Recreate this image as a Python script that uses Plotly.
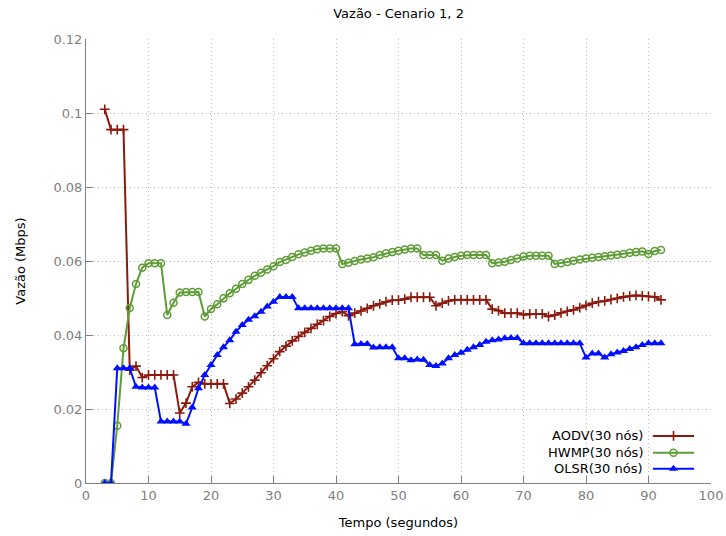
import plotly.graph_objects as go

time_s = list(range(3, 93))

aodv = [0.101, 0.0955, 0.0955, 0.0955, 0.0305, 0.0316, 0.0285,
        0.0292, 0.0292, 0.0292, 0.0292, 0.0292,
        0.0189, 0.0216, 0.026, 0.0272,
        0.0268, 0.0268, 0.0268, 0.0268,
        0.0215, 0.0227, 0.0243, 0.026, 0.0278, 0.0298, 0.0317, 0.0336, 0.0355,
        0.037, 0.0384, 0.0396, 0.0407, 0.0418, 0.0429, 0.0439, 0.045, 0.0458, 0.0463,
        0.0452, 0.0459, 0.0465, 0.0472, 0.0479, 0.0484, 0.049, 0.0494, 0.0494, 0.0497,
        0.0502, 0.0502, 0.0502, 0.0502,
        0.0479, 0.0486, 0.0492,
        0.0495, 0.0495, 0.0495, 0.0495, 0.0495, 0.0495,
        0.047, 0.0466, 0.0459, 0.0459, 0.0459, 0.0455,
        0.0457, 0.0457, 0.0457, 0.045, 0.0454, 0.046, 0.0464, 0.0468, 0.0474, 0.048,
        0.0486, 0.049, 0.0492, 0.0496, 0.0499, 0.0503, 0.0505, 0.0507, 0.0506, 0.0504,
        0.0503, 0.0495]

hwmp = [0.0, 0.0, 0.0155, 0.0364, 0.0473, 0.0538, 0.0582,
        0.0594, 0.0594, 0.0594, 0.0454, 0.0487, 0.0515, 0.0516, 0.0516, 0.0516,
        0.045, 0.047, 0.0483, 0.0499, 0.0513, 0.0525, 0.0538, 0.0549, 0.056, 0.0568,
        0.0577, 0.0586, 0.0597, 0.0603, 0.0611, 0.0618, 0.0623, 0.0628, 0.0632,
        0.0634, 0.0634, 0.0634,
        0.0592, 0.0595, 0.06, 0.0604, 0.0607, 0.061, 0.0616, 0.0621, 0.0624, 0.0628,
        0.0631, 0.0634, 0.0634,
        0.0616, 0.0616, 0.0616,
        0.0601, 0.0607, 0.0611, 0.0614, 0.0616, 0.0616, 0.0616, 0.0616,
        0.0594, 0.0596, 0.0598, 0.0603, 0.0607, 0.0612, 0.0614, 0.0614, 0.0614, 0.0614,
        0.0592, 0.0594, 0.0597, 0.0601, 0.0604, 0.0607, 0.0609, 0.0611, 0.0613, 0.0615,
        0.0617, 0.0619, 0.0622, 0.0624, 0.0626, 0.0619, 0.0627, 0.063]

olsr = [0.0, 0.0, 0.031, 0.031, 0.031, 0.026, 0.0258, 0.0258, 0.0258,
        0.0166, 0.0166, 0.0166, 0.0166, 0.016, 0.0204, 0.0256, 0.0292, 0.0319,
        0.0346, 0.0367, 0.0386, 0.0409, 0.0427, 0.0441, 0.0451, 0.0463, 0.0477, 0.049,
        0.0503, 0.0503, 0.0503,
        0.0472, 0.0472, 0.0472, 0.0472, 0.0472, 0.0472, 0.0472, 0.0472, 0.0472,
        0.0375, 0.0376, 0.0376, 0.0366, 0.0367, 0.0367, 0.0367,
        0.0337, 0.0337, 0.0332, 0.0334, 0.0333, 0.0319, 0.0316, 0.0323,
        0.0337, 0.0346, 0.0352, 0.036, 0.0367, 0.0373, 0.0382, 0.0386, 0.0388,
        0.0391, 0.0392, 0.0392,
        0.0378, 0.0378, 0.0378, 0.0378, 0.0378, 0.0378, 0.0378, 0.0378, 0.0378, 0.0378,
        0.0339, 0.035, 0.035, 0.0339, 0.0348, 0.0353, 0.0357, 0.0362, 0.0367,
        0.0373, 0.0378, 0.0378, 0.0378]

series_names = ["AODV(30 nós)", "HWMP(30 nós)", "OLSR(30 nós)"]
x_ticks = list(range(0, 101, 10))
y_ticks = [0, 0.02, 0.04, 0.06, 0.08, 0.1, 0.12]
y_tick_labels = ["0", "0.02", "0.04", "0.06", "0.08", "0.1", "0.12"]

RED = "#8b1a0e"
GREEN = "#5e9c36"
BLUE = "#0010ff"
FONT = "DejaVu Sans"

styles = [
    dict(color=RED, marker=dict(symbol="cross-thin-open", size=7, color=RED,
                                line=dict(width=1.6, color=RED))),
    dict(color=GREEN, marker=dict(symbol="circle-open", size=7, color=GREEN,
                                  line=dict(width=1.5, color=GREEN))),
    dict(color=BLUE, marker=dict(symbol="triangle-up", size=8, color=BLUE,
                                 line=dict(width=0))),
]

fig = go.Figure()
for name, ys, st in zip(series_names, [aodv, hwmp, olsr], styles):
    fig.add_trace(go.Scatter(x=time_s, y=ys, mode="lines+markers", name=name,
                             line=dict(color=st["color"], width=2),
                             marker=st["marker"], showlegend=False))

# legend drawn gnuplot-style (text right, sample to the right) on an overlay axis
legend_rows = [0.106, 0.068, 0.032]
for name, row, st in zip(series_names, legend_rows, styles):
    fig.add_trace(go.Scatter(x=[0.907, 0.973], y=[row, row], mode="lines",
                             line=dict(color=st["color"], width=2),
                             xaxis="x2", yaxis="y2", showlegend=False,
                             hoverinfo="skip"))
    fig.add_trace(go.Scatter(x=[0.94], y=[row], mode="markers", marker=st["marker"],
                             xaxis="x2", yaxis="y2", showlegend=False,
                             hoverinfo="skip"))
    fig.add_annotation(x=0.895, y=row, xref="x2", yref="y2", text=name,
                       showarrow=False, xanchor="right", yanchor="middle",
                       font=dict(family=FONT, size=13, color="#000000"))

axis_common = dict(showline=True, linecolor="#808080", linewidth=1,
                   ticks="inside", ticklen=7, tickcolor="#808080",
                   showgrid=True, gridcolor="#bdbdbd", griddash="1px,3px", gridwidth=1,
                   zeroline=False, mirror=False, automargin=False,
                   tickfont=dict(family=FONT, size=13, color="#808080"))

fig.update_layout(
    width=726, height=536,
    margin=dict(l=86, r=15, t=39, b=53),
    paper_bgcolor="white", plot_bgcolor="white",
    font=dict(family=FONT, size=13, color="#000000"),
    title=dict(text="Vazão - Cenario 1, 2", x=0.549, xanchor="center",
               y=0.974, yanchor="middle",
               font=dict(family=FONT, size=13, color="#000000")),
    xaxis=dict(range=[0, 100], tickvals=x_ticks, **axis_common,
               title=dict(text="Tempo (segundos)", standoff=16,
                          font=dict(family=FONT, size=13, color="#000000"))),
    yaxis=dict(range=[0, 0.12], tickvals=y_ticks, ticktext=y_tick_labels,
               **axis_common,
               title=dict(text="Vazão (Mbps)", standoff=24,
                          font=dict(family=FONT, size=13, color="#000000"))),
    xaxis2=dict(range=[0, 1], overlaying="x", visible=False, fixedrange=True),
    yaxis2=dict(range=[0, 1], overlaying="y", visible=False, fixedrange=True),
    showlegend=False,
)

fig.write_html("out.html")
